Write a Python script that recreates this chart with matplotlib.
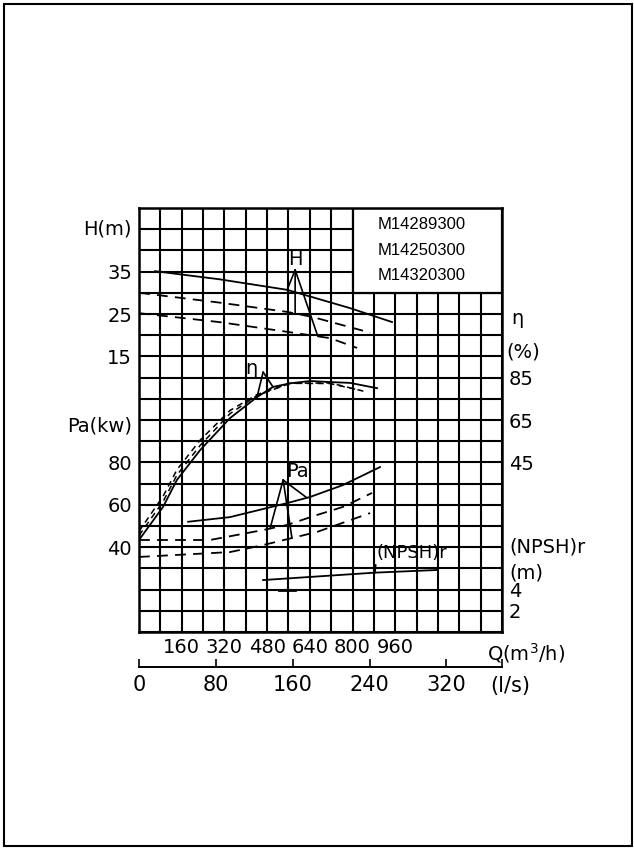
import numpy as np
import matplotlib
matplotlib.use('Agg')
import matplotlib.pyplot as plt
from matplotlib.patches import Rectangle

# flow in m3/h
q_h = [60, 300, 555, 790, 948]
h_solid = [35.1, 33.2, 30.7, 26.4, 23.1]
q_h_d1 = [0, 300, 555, 650, 866]
h_d1 = [30.0, 27.7, 25.5, 24.3, 20.6]
q_h_d2 = [0, 300, 555, 716, 817]
h_d2 = [25.2, 23.1, 20.8, 19.3, 17.0]

q_eta = [0, 90, 142, 229, 341, 442, 502, 566, 641, 716, 791, 892]
eta = [8.4, 24.0, 36.7, 50.8, 65.9, 75.8, 80.6, 82.3, 83.4, 82.9, 82.5, 80.0]
q_eta_d1 = [0, 90, 142, 229, 341, 442, 566, 716, 854]
eta_d1 = [10.5, 26.5, 39.0, 53.0, 68.0, 76.5, 82.3, 82.5, 78.2]
q_eta_d2 = [0, 90, 142, 229, 341, 442, 566, 716, 828]
eta_d2 = [12.5, 29.0, 41.5, 55.5, 69.5, 77.0, 82.3, 82.2, 79.0]

q_pa = [184, 341, 555, 641, 764, 903]
pa = [52.0, 54.2, 60.8, 63.7, 69.3, 77.8]
q_pa_d1 = [0, 266, 465, 555, 667, 764, 873]
pa_d1 = [43.4, 43.4, 48.1, 50.5, 55.2, 59.0, 65.6]
q_pa_d2 = [0, 341, 465, 667, 866]
pa_d2 = [35.4, 37.7, 41.0, 47.2, 56.1]

q_npsh = [465, 884, 1117]
npsh = [4.9, 5.6, 5.85]
q_npsh_d = [523, 585]
npsh_d = [3.96, 3.96]

models = ['M14289300', 'M14250300', 'M14320300']
q_labels = [160, 320, 480, 640, 800, 960]
ls_labels = [0, 80, 160, 240, 320]
h_ticks = [15, 25, 35]
pa_ticks = [40, 60, 80]
eta_ticks = [45, 65, 85]
npsh_ticks = [2, 4]

plt.rcParams['font.family'] = ['DejaVu Sans']
fig = plt.figure(figsize=(6.34, 8.48), dpi=100)
ax = fig.add_axes([139/634, 216/848, 363/634, 424/848])

ax.set_xlim(0, 1360)
ax.set_ylim(-50, 50)
ax.set_xticks(np.arange(0, 1361, 80))
ax.set_xticklabels([str(v) if v in q_labels else '' for v in range(0, 1361, 80)])
ax.set_yticks(np.arange(-50, 51, 5))
ax.set_yticklabels([str(v) if v in h_ticks else '' for v in range(-50, 51, 5)])
ax.tick_params(length=0, labelsize=14, pad=5)
ax.tick_params(axis='x', pad=4, labelsize=14)
ax.grid(True, color='black', lw=1.5)
for s in ax.spines.values():
    s.set_linewidth(1.8)

# other scales share the same grid
ax_pa = ax.twinx()
ax_pa.set_ylim(0, 200)
ax_pa.yaxis.tick_left()
ax_pa.set_yticks(pa_ticks)
ax_pa.tick_params(length=0, labelsize=14, pad=5)
ax_eta = ax.twinx()
ax_eta.set_ylim(-35, 165)
ax_eta.set_yticks(eta_ticks)
ax_eta.tick_params(length=0, labelsize=14, pad=5)
ax_np = ax.twinx()
ax_np.set_ylim(0, 40)
ax_np.set_yticks(npsh_ticks)
ax_np.tick_params(length=0, labelsize=14, pad=5)
for a in (ax_pa, ax_eta, ax_np):
    for s in a.spines.values():
        s.set_visible(False)

lw = 1.3
dash = (0, (6, 4))
ax.plot(q_h, h_solid, color='black', lw=lw)
ax.plot(q_h_d1, h_d1, color='black', lw=lw, linestyle=dash)
ax.plot(q_h_d2, h_d2, color='black', lw=lw, linestyle=dash)
ax_eta.plot(q_eta, eta, color='black', lw=lw)
ax_eta.plot(q_eta_d1, eta_d1, color='black', lw=1.1, linestyle=(0, (4, 3)))
ax_eta.plot(q_eta_d2, eta_d2, color='black', lw=1.1, linestyle=(0, (4, 3)))
ax_pa.plot(q_pa, pa, color='black', lw=lw)
ax_pa.plot(q_pa_d1, pa_d1, color='black', lw=lw, linestyle=dash)
ax_pa.plot(q_pa_d2, pa_d2, color='black', lw=lw, linestyle=dash)
ax_np.plot(q_npsh, npsh, color='black', lw=lw)
ax_np.plot(q_npsh_d, npsh_d, color='black', lw=2)

leg = dict(arrowstyle='-', lw=1.2, color='black', shrinkA=0, shrinkB=0)
# H leaders
for qq, xs, ys in [(555, q_h, h_solid), (585, q_h_d1, h_d1), (670, q_h_d2, h_d2)]:
    ax.annotate('', xy=(qq, np.interp(qq, xs, ys)), xytext=(585, 35.4), arrowprops=leg)
ax.text(585, 37.8, 'H', ha='center', va='center', fontsize=14)
# eta leaders
for qq in (442, 502):
    ax_eta.annotate('', xy=(qq, np.interp(qq, q_eta, eta)), xytext=(465, 87.6), arrowprops=leg)
ax_eta.text(420, 89.5, 'η', ha='center', va='center', fontsize=14)
# Pa leaders
for qq, xs, ys in [(491, q_pa_d1, pa_d1), (573, q_pa_d2, pa_d2), (629, q_pa, pa)]:
    ax_pa.annotate('', xy=(qq, np.interp(qq, xs, ys)), xytext=(540, 71.7), arrowprops=leg)
ax_pa.text(592, 75.8, 'Pa', ha='center', va='center', fontsize=14)
ax_np.annotate('(NPSH)r', xy=(884, np.interp(884, q_npsh, npsh)), xytext=(888, 6.6),
               ha='left', va='bottom', fontsize=13,
               arrowprops=dict(arrowstyle='-', lw=1.2, color='black', shrinkA=0, shrinkB=0, relpos=(0, 0)))

# model box in the top right corner
ax.add_patch(Rectangle((800, 30), 560, 20, facecolor='white', edgecolor='black', lw=1.6, zorder=2.5))
for i, m in enumerate(models):
    ax.text(1060, 46 - i * 6, m, ha='center', va='center', fontsize=12, family='Liberation Sans', zorder=3)

# axis names
ytr = ax.get_yaxis_transform()
ax.text(-0.02, 45, 'H(m)', transform=ytr, ha='right', va='center', fontsize=14)
ax_pa.text(-0.02, 97, 'Pa(kw)', transform=ax_pa.get_yaxis_transform(), ha='right', va='center', fontsize=14)
etr = ax_eta.get_yaxis_transform()
ax_eta.text(1.025, 113, 'η', transform=etr, ha='left', va='center', fontsize=14)
ax_eta.text(1.012, 97, '(%)', transform=etr, ha='left', va='center', fontsize=14)
ntr = ax_np.get_yaxis_transform()
ax_np.text(1.02, 8.0, '(NPSH)r', transform=ntr, ha='left', va='center', fontsize=14)
ax_np.text(1.02, 5.6, '(m)', transform=ntr, ha='left', va='center', fontsize=14)
ax.text(0.959, -0.05, 'Q(m$^3$/h)', transform=ax.transAxes, ha='left', va='center', fontsize=14)

# l/s scale below
sec = ax.secondary_xaxis('bottom', functions=(lambda q: q / 3.6, lambda l: l * 3.6))
sec.spines['bottom'].set_position(('outward', 25))
sec.spines['bottom'].set_linewidth(1.4)
sec.set_xticks(ls_labels)
sec.set_xticks([1360 / 3.6], minor=True)
sec.tick_params(which='both', direction='in', length=6, width=1.2, labelsize=15, pad=6)
ax.text(0.967, -0.127, '(l/s)', transform=ax.transAxes, ha='left', va='center', fontsize=15)

fig.patches.append(Rectangle((4/634, 2/848), 628/634, 842/848, transform=fig.transFigure,
                             fill=False, edgecolor='black', lw=1.5))

fig.savefig('out.png', dpi=100)
